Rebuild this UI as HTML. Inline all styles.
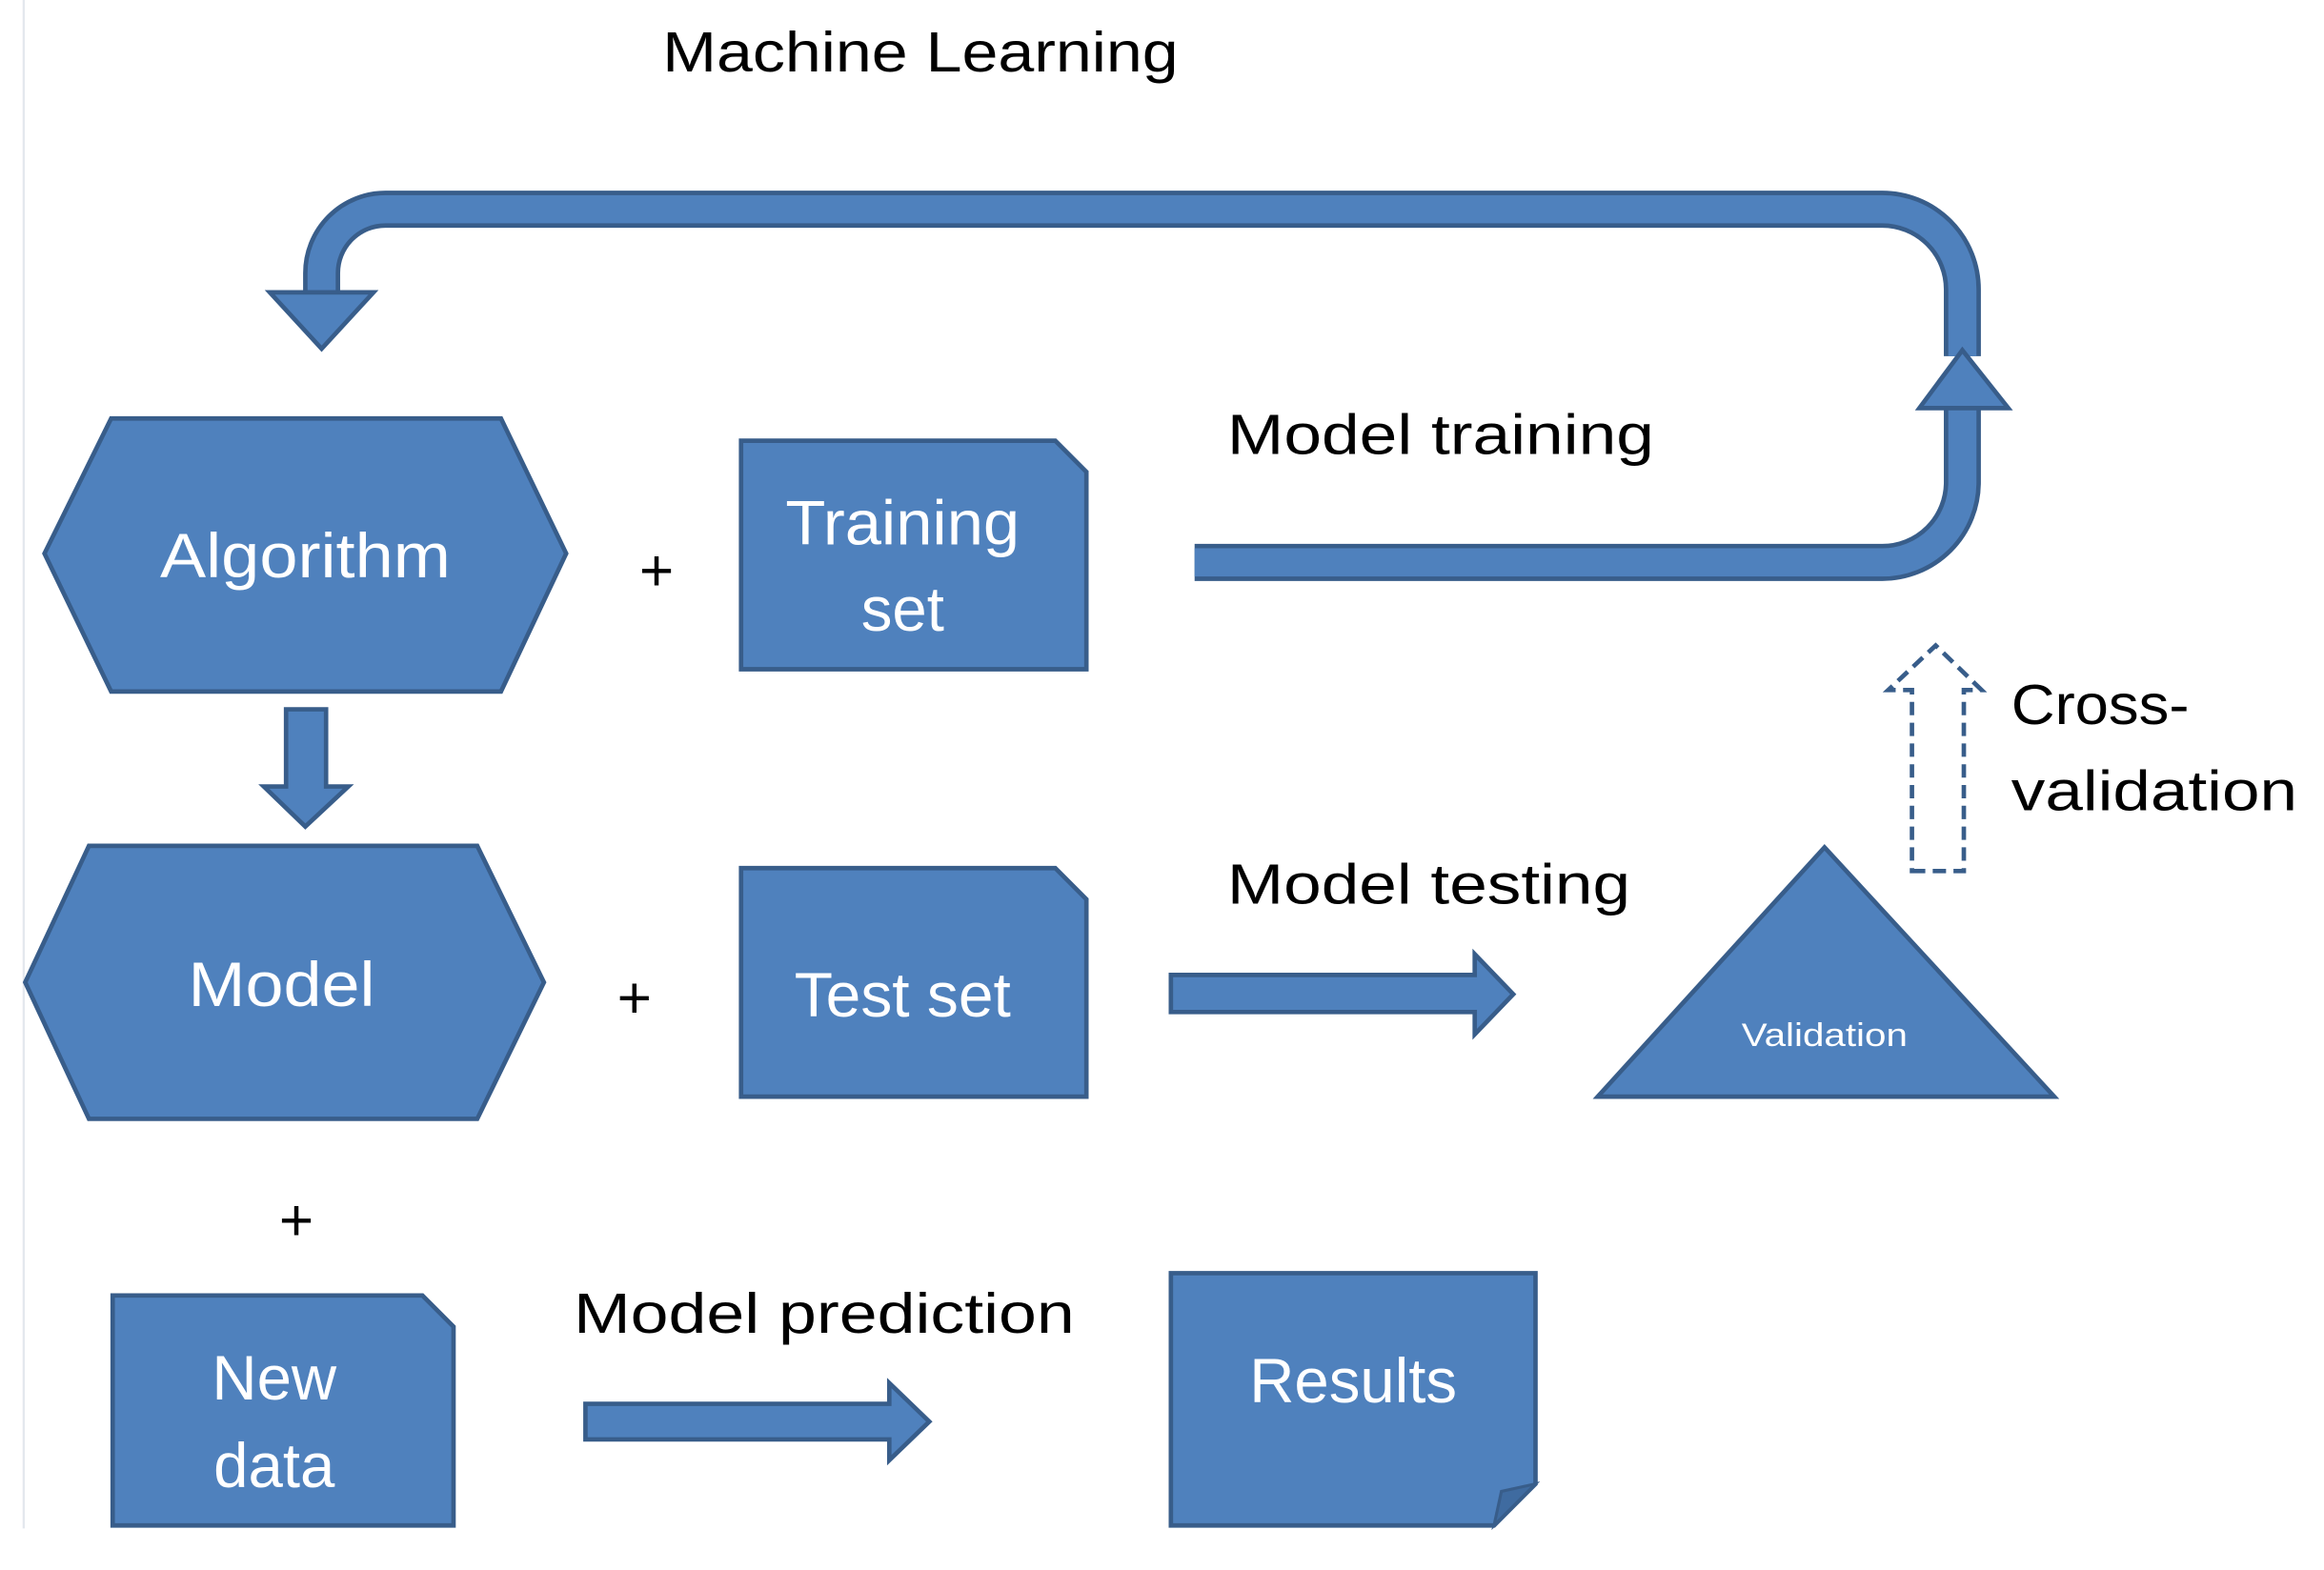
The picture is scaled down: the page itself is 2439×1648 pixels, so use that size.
<!DOCTYPE html>
<html><head><style>html,body{margin:0;padding:0;background:#fff}svg{display:block}</style></head>
<body>
<svg width="2439" height="1648" viewBox="0 0 1568 1058" preserveAspectRatio="none" xmlns="http://www.w3.org/2000/svg" font-family="'Liberation Sans', sans-serif">
<line x1="16" y1="0" x2="16" y2="1030" stroke="#e4e8ee" stroke-width="1.5"/>
<text x="447" y="48" font-size="38" fill="#000" textLength="348" lengthAdjust="spacingAndGlyphs">Machine Learning</text>
<g fill="#4f81bd" stroke="#385d8a" stroke-width="3" stroke-linejoin="miter">
  <path d="M806,379 L1270,379 A54,54 0 0 0 1324,325 L1324,275" fill="none" stroke="#385d8a" stroke-width="25" stroke-linecap="butt"/>
  <path d="M806,379 L1270,379 A54,54 0 0 0 1324,325 L1324,275" fill="none" stroke="#4f81bd" stroke-width="19" stroke-linecap="butt"/>
  <path d="M1324,240 L1324,195 A54,54 0 0 0 1270,141 L260,141 A43,43 0 0 0 217,184 L217,197" fill="none" stroke="#385d8a" stroke-width="25"/>
  <path d="M1324,240 L1324,195 A54,54 0 0 0 1270,141 L260,141 A43,43 0 0 0 217,184 L217,197" fill="none" stroke="#4f81bd" stroke-width="19"/>
  <polygon points="182,197 252,197 217,235"/>
  <polygon points="1295,275 1324,236 1355,275"/>
  <polygon points="30,373 75,282 338,282 382,373 338,466 75,466"/>
  <polygon points="193,478 220,478 220,530 235,530 206,557 178,530 193,530"/>
  <polygon points="17,662 60,570 322,570 367,662 322,754 60,754"/>
  <polygon points="500,297 712,297 733,318 733,451 500,451"/>
  <polygon points="500,585 712,585 733,606 733,739 500,739"/>
  <polygon points="76,873 285,873 306,894 306,1028 76,1028"/>
  <polygon points="790,858 1036,858 1036,1000 1008,1028 790,1028"/>
  <polygon points="790,657 995,657 995,643 1021,670 995,697 995,682 790,682"/>
  <polygon points="395,946 600,946 600,932 627,958 600,984 600,970 395,970"/>
  <polygon points="1078,739 1231,571 1386,739"/>
</g>
<polygon points="1008,1028 1013,1005 1036,1000" fill="#3f6ba0" stroke="#385d8a" stroke-width="2"/>
<polygon points="1290,587 1325,587 1325,465 1337,465 1306,435 1274,465 1290,465" fill="none" stroke="#385d8a" stroke-width="3" stroke-dasharray="9,5"/>
<g fill="#fff" text-anchor="middle" font-size="42">
  <text x="206" y="389" textLength="196" lengthAdjust="spacingAndGlyphs">Algorithm</text>
  <text x="190" y="678" textLength="126" lengthAdjust="spacingAndGlyphs">Model</text>
  <text x="609" y="367" textLength="158" lengthAdjust="spacingAndGlyphs">Training</text>
  <text x="609" y="425">set</text>
  <text x="609" y="685" textLength="146" lengthAdjust="spacingAndGlyphs">Test set</text>
  <text x="185" y="943">New</text>
  <text x="185" y="1002">data</text>
  <text x="913" y="945" textLength="140" lengthAdjust="spacingAndGlyphs">Results</text>
  <text x="1231" y="705" font-size="22" textLength="112" lengthAdjust="spacingAndGlyphs">Validation</text>
</g>
<g fill="#000" font-size="38">
  <text x="828" y="306" textLength="288" lengthAdjust="spacingAndGlyphs">Model training</text>
  <text x="828" y="609" textLength="272" lengthAdjust="spacingAndGlyphs">Model testing</text>
  <text x="387" y="898" textLength="338" lengthAdjust="spacingAndGlyphs">Model prediction</text>
  <text x="1357" y="488" textLength="120" lengthAdjust="spacingAndGlyphs">Cross-</text>
  <text x="1357" y="546" textLength="193" lengthAdjust="spacingAndGlyphs">validation</text>
  <text x="443" y="398" font-size="40" text-anchor="middle">+</text>
  <text x="428" y="686" font-size="40" text-anchor="middle">+</text>
  <text x="200" y="836" font-size="40" text-anchor="middle">+</text>
</g>
</svg>
</body></html>
